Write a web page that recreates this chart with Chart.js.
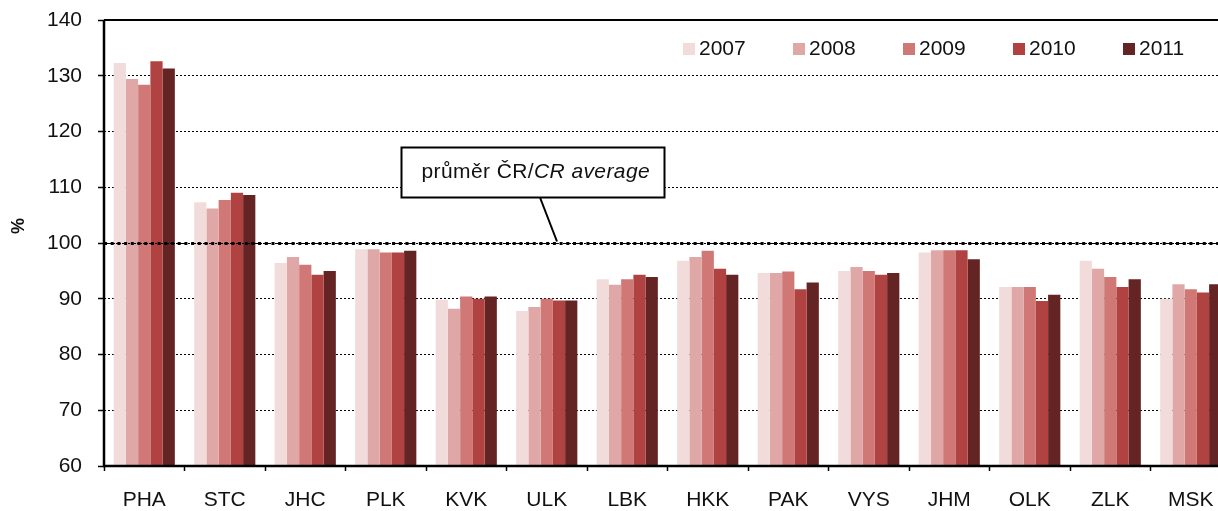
<!DOCTYPE html>
<html>
<head>
<meta charset="utf-8">
<title>Regiony ČR 2007–2011</title>
<script src="https://cdn.jsdelivr.net/npm/chart.js@4.4.1/dist/chart.umd.min.js"></script>
<style>
  html, body { margin: 0; padding: 0; background: #fff; overflow: hidden; }
  #wrap { width: 1240px; height: 511px; }
</style>
</head>
<body>
<div id="wrap"><canvas id="regionChart" width="1240" height="511"></canvas></div>
<script>
// Regiony ČR, index vůči průměru ČR (= 100), roky 2007–2011
var regions = ['PHA', 'STC', 'JHC', 'PLK', 'KVK', 'ULK', 'LBK', 'HKK', 'PAK', 'VYS', 'JHM', 'OLK', 'ZLK', 'MSK'];
var years = ['2007', '2008', '2009', '2010', '2011'];
var v2007 = [132.3, 107.3, 96.4, 98.9, 89.8, 87.8, 93.5, 96.8, 94.6, 95.0, 98.3, 92.1, 96.8, 90.0];
var v2008 = [129.4, 106.2, 97.5, 98.9, 88.2, 88.5, 92.5, 97.5, 94.6, 95.7, 98.7, 92.1, 95.4, 92.6];
var v2009 = [128.4, 107.7, 96.1, 98.3, 90.4, 90.0, 93.5, 98.6, 94.9, 95.0, 98.7, 92.1, 93.9, 91.7];
var v2010 = [132.6, 109.0, 94.3, 98.3, 90.0, 89.7, 94.3, 95.4, 91.7, 94.3, 98.7, 89.6, 92.1, 91.1];
var v2011 = [131.3, 108.6, 95.0, 98.6, 90.4, 89.7, 93.9, 94.3, 92.9, 94.6, 97.1, 90.7, 93.5, 92.6];
var yMin = 60, yMax = 140, yStep = 10;
var avgValue = 100;
var avgLabel = 'průměr ČR/';
var avgLabelItalic = 'CR average';
var yTitle = '%';

(function () {
  'use strict';

  var FONT = "'Liberation Sans', Arial, sans-serif";
  var INK = '#111';
  var colors = ['#f2dcdb', '#e0a7a7', '#cf7876', '#b04341', '#632423'];
  var series = [v2007, v2008, v2009, v2010, v2011];

  var datasets = series.map(function (vals, i) {
    return {
      label: years[i],
      data: vals,
      backgroundColor: colors[i],
      borderWidth: 0,
      categoryPercentage: 0.76,
      barPercentage: 1.0
    };
  });

  // ---- overlay: průměr, osy, popisek, legenda ----
  var overlay = {
    id: 'overlay',
    afterDatasetsDraw: function (chart) {
      var ctx = chart.ctx;
      var a = chart.chartArea;
      var y = chart.scales.y;
      var yAvg = Math.round(y.getPixelForValue(avgValue)) + 0.5;

      ctx.save();

      // průměr ČR line, over the bars: thin dots + heavy squares
      ctx.strokeStyle = '#000';
      ctx.lineWidth = 1;
      ctx.setLineDash([2, 1]);
      ctx.beginPath();
      ctx.moveTo(a.left, yAvg);
      ctx.lineTo(a.right, yAvg);
      ctx.stroke();
      ctx.lineWidth = 3;
      ctx.setLineDash([3, 3.7]);
      ctx.beginPath();
      ctx.moveTo(a.left, yAvg);
      ctx.lineTo(a.right, yAvg);
      ctx.stroke();
      ctx.setLineDash([]);

      // axes + top frame
      ctx.lineWidth = 2;
      ctx.beginPath();
      ctx.moveTo(a.left, a.top);
      ctx.lineTo(a.right, a.top);
      ctx.stroke();
      ctx.lineWidth = 2.5;
      ctx.beginPath();
      ctx.moveTo(a.left, a.top);
      ctx.lineTo(a.left, a.bottom);
      ctx.lineTo(a.right, a.bottom);
      ctx.stroke();

      // callout box
      var bx = a.left + 297.5, by = a.top + 127.5, bw = 263, bh = 50;
      ctx.lineWidth = 2;
      ctx.beginPath();
      ctx.moveTo(a.left + 436, by + bh);
      ctx.lineTo(a.left + 453, yAvg - 2);
      ctx.stroke();
      ctx.fillStyle = '#fff';
      ctx.fillRect(bx, by, bw, bh);
      ctx.strokeRect(bx, by, bw, bh);

      ctx.fillStyle = INK;
      ctx.textBaseline = 'middle';
      ctx.textAlign = 'left';
      ctx.letterSpacing = '0.4px';
      ctx.font = '21px ' + FONT;
      var tx = bx + 20;
      ctx.fillText(avgLabel, tx, by + bh / 2);
      tx += ctx.measureText(avgLabel).width;
      ctx.font = 'italic 21px ' + FONT;
      ctx.fillText(avgLabelItalic, tx, by + bh / 2);
      ctx.letterSpacing = '0px';

      // legend
      ctx.font = '21px ' + FONT;
      years.forEach(function (yr, i) {
        var lx = a.left + 579 + i * 110;
        var ly = a.top + 29;
        ctx.fillStyle = colors[i];
        ctx.fillRect(lx, ly - 6, 12, 12);
        ctx.fillStyle = INK;
        ctx.fillText(yr, lx + 16, ly);
      });

      // y title
      ctx.translate(19, 226);
      ctx.rotate(-Math.PI / 2);
      ctx.textAlign = 'center';
      ctx.font = 'bold 18px ' + FONT;
      ctx.fillText(yTitle, 0, 0);

      ctx.restore();
    }
  };

  new Chart(document.getElementById('regionChart'), {
    type: 'bar',
    data: { labels: regions, datasets: datasets },
    plugins: [overlay],
    options: {
      responsive: false,
      animation: false,
      devicePixelRatio: 1,
      layout: { padding: { top: 20, right: 9, left: 0, bottom: 0 } },
      plugins: {
        legend: { display: false },
        tooltip: { enabled: false }
      },
      scales: {
        x: {
          offset: true,
          border: { display: false },
          grid: {
            offset: true,
            drawOnChartArea: false,
            drawTicks: true,
            tickLength: 5,
            tickWidth: 1.5,
            tickColor: '#000'
          },
          ticks: {
            color: INK,
            font: { family: FONT, size: 21 },
            padding: 17,
            maxRotation: 0,
            autoSkip: false
          },
          afterFit: function (s) {
            s.height = 45;
            s.paddingLeft = 0;
            s.paddingRight = 0;
          }
        },
        y: {
          min: yMin,
          max: yMax,
          border: { display: false, dash: [2, 2] },
          grid: {
            color: function (c) {
              var v = c.tick && c.tick.value;
              return (v === yMin || v === yMax) ? 'rgba(0,0,0,0)' : '#000';
            },
            lineWidth: 1,
            tickLength: 6,
            tickWidth: 1.5,
            tickColor: '#000'
          },
          ticks: {
            stepSize: yStep,
            color: INK,
            font: { family: FONT, size: 21 },
            padding: 16
          },
          afterFit: function (s) {
            s.width = 104;
            s.paddingTop = 0;
            s.paddingBottom = 0;
          }
        }
      }
    }
  });
})();
</script>
</body>
</html>
